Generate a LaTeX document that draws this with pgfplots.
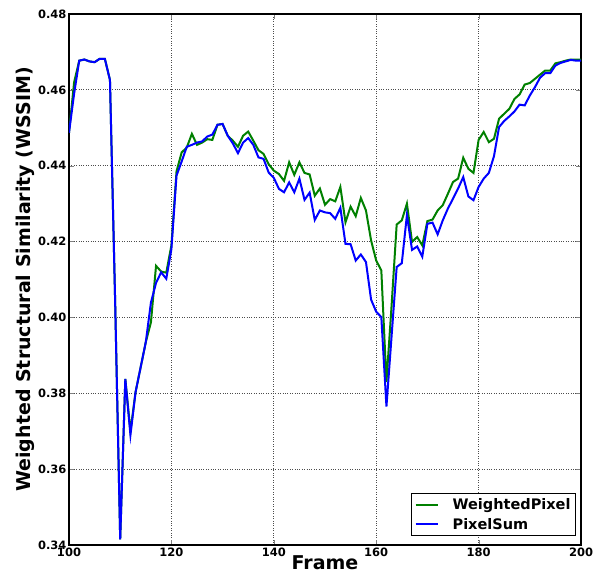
\documentclass[border=0pt]{standalone}
\usepackage{pgfplots}
\usepackage{pgfplotstable}
\pgfplotsset{compat=1.18}
\usepackage{fontspec}
\setmainfont{DejaVu Sans}

\definecolor{mplgreen}{RGB}{0,128,0}
\definecolor{mplblue}{RGB}{0,0,255}

\pgfplotstableread{
frame weighted pixelsum
100 0.4487 0.4487
101 0.4620 0.4590
102 0.4677 0.4677
103 0.4680 0.4680
104 0.4675 0.4675
105 0.4673 0.4673
106 0.4682 0.4682
107 0.4682 0.4682
108 0.4626 0.4626
109 0.4050 0.4050
110 0.3415 0.3415
111 0.3838 0.3838
112 0.3700 0.3690
113 0.3803 0.3803
114 0.3869 0.3869
115 0.3935 0.3935
116 0.3987 0.4039
117 0.4136 0.4091
118 0.4121 0.4119
119 0.4118 0.4102
120 0.4190 0.4180
121 0.4385 0.4374
122 0.4435 0.4411
123 0.4448 0.4450
124 0.4484 0.4455
125 0.4455 0.4461
126 0.4461 0.4464
127 0.4470 0.4477
128 0.4468 0.4482
129 0.4508 0.4508
130 0.4510 0.4510
131 0.4479 0.4479
132 0.4466 0.4459
133 0.4450 0.4433
134 0.4479 0.4461
135 0.4490 0.4473
136 0.4466 0.4455
137 0.4441 0.4422
138 0.4431 0.4418
139 0.4404 0.4382
140 0.4387 0.4368
141 0.4378 0.4339
142 0.4360 0.4330
143 0.4409 0.4356
144 0.4376 0.4330
145 0.4409 0.4366
146 0.4381 0.4310
147 0.4377 0.4329
148 0.4321 0.4257
149 0.4340 0.4282
150 0.4297 0.4277
151 0.4312 0.4275
152 0.4306 0.4260
153 0.4344 0.4289
154 0.4251 0.4194
155 0.4292 0.4193
156 0.4267 0.4150
157 0.4315 0.4166
158 0.4282 0.4146
159 0.4203 0.4047
160 0.4150 0.4015
161 0.4124 0.4001
162 0.3830 0.3765
163 0.4030 0.3950
164 0.4245 0.4133
165 0.4256 0.4143
166 0.4300 0.4270
167 0.4199 0.4178
168 0.4212 0.4187
169 0.4190 0.4160
170 0.4254 0.4247
171 0.4258 0.4250
172 0.4282 0.4219
173 0.4296 0.4256
174 0.4326 0.4287
175 0.4357 0.4313
176 0.4366 0.4340
177 0.4421 0.4370
178 0.4392 0.4319
179 0.4381 0.4309
180 0.4468 0.4344
181 0.4489 0.4366
182 0.4462 0.4381
183 0.4471 0.4425
184 0.4524 0.4502
185 0.4537 0.4518
186 0.4550 0.4530
187 0.4576 0.4543
188 0.4588 0.4561
189 0.4614 0.4559
190 0.4618 0.4585
191 0.4629 0.4607
192 0.4640 0.4632
193 0.4651 0.4644
194 0.4651 0.4644
195 0.4670 0.4664
196 0.4673 0.4671
197 0.4677 0.4675
198 0.4680 0.4679
199 0.4680 0.4677
200 0.4680 0.4677
}\ssimdata

\begin{document}
\begin{tikzpicture}
\begin{axis}[
  scale only axis,
  width=512pt, height=531pt,
  xmin=100, xmax=200, ymin=0.34, ymax=0.48,
  xtick={100,120,...,200},
  ytick={0.34,0.36,...,0.48},
  yticklabel style={xshift=1pt, /pgf/number format/fixed, /pgf/number format/fixed zerofill, /pgf/number format/precision=2},
  /pgf/number format/assume math mode=true,
  tick label style={font=\fontsize{11.5}{13}\selectfont\bfseries},
  xticklabel style={yshift=1pt},
  major tick length=5pt,
  axis line style={line width=1.2pt},
  grid=major,
  major grid style={black!70, dotted, line width=0.8pt},
  xlabel={Frame},
  ylabel={Weighted Structural Similarity (WSSIM)},
  label style={font=\fontsize{19}{22}\selectfont\bfseries},
  xlabel style={yshift=7pt},
  ylabel style={yshift=-3pt},
  legend style={at={(rel axis cs:1,0)}, anchor=south east, xshift=-5pt, yshift=9pt,
    draw=black, line width=1pt, font=\fontsize{14.5}{16}\selectfont\bfseries,
    row sep=3pt, inner sep=3pt},
  legend cell align=left,
  legend image code/.code={\draw[#1, line width=2pt] (0pt,0pt) -- (22pt,0pt);},
]
\addplot[mplgreen, line width=2pt] table[x=frame, y=weighted] {\ssimdata};
\addlegendentry{\hspace{12pt}WeightedPixel}
\addplot[mplblue, line width=2pt] table[x=frame, y=pixelsum] {\ssimdata};
\addlegendentry{\hspace{12pt}PixelSum}
\end{axis}
\pgfresetboundingbox
\path[use as bounding box] (-69pt,-31pt) rectangle (524pt,545pt);
\end{tikzpicture}
\end{document}
